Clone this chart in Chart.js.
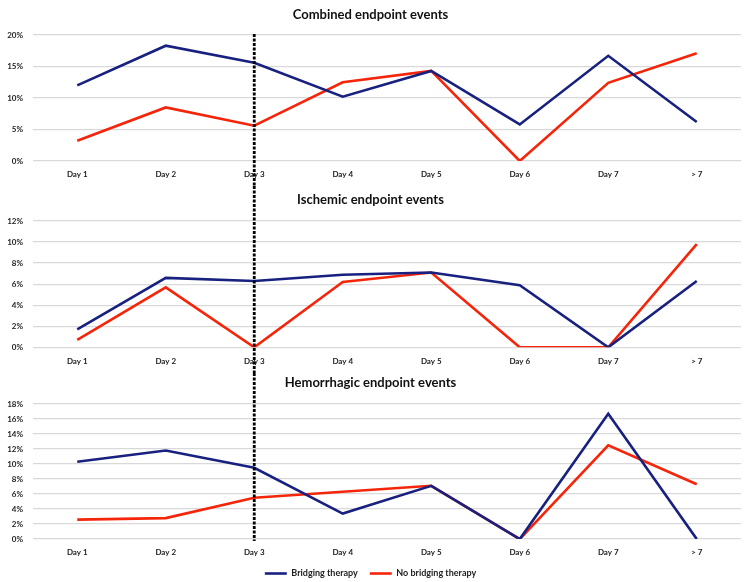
<!DOCTYPE html>
<html><head><meta charset="utf-8">
<script src="https://cdn.jsdelivr.net/npm/chart.js@4"></script>
<style>
html,body{margin:0;padding:0;background:#fff;width:748px;height:582px;overflow:hidden;position:relative}
canvas{position:absolute;left:0;display:block}
</style></head>
<body>
<canvas id="c1" width="748" height="186" style="top:0px"></canvas>
<canvas id="c2" width="748" height="187" style="top:186px"></canvas>
<canvas id="c3" width="748" height="215" style="top:373px"></canvas>
<script>
const categories = ['Day 1','Day 2','Day 3','Day 4','Day 5','Day 6','Day 7','> 7'];
const seriesNames = ['Bridging therapy','No bridging therapy'];
const panelTitles = ['Combined endpoint events','Ischemic endpoint events','Hemorrhagic endpoint events'];
const combinedBridging = [12.0,18.3,15.6,10.2,14.3,5.8,16.7,6.2];
const combinedNoBridging = [3.2,8.5,5.6,12.5,14.3,0,12.4,17.1];
const ischemicBridging = [1.7,6.6,6.3,6.9,7.1,5.9,0,6.3];
const ischemicNoBridging = [0.7,5.7,0,6.2,7.1,0,0,9.8];
const hemorrhagicBridging = [10.3,11.8,9.5,3.4,7.1,0,16.7,0];
const hemorrhagicNoBridging = [2.6,2.8,5.5,6.3,7.1,0,12.5,7.3];
const yMax = [20,12,18];
const yStep = [5,2,2];
const markerCategory = 'Day 3';

const BLUE = '#18217f';
const RED = '#f5250a';
const FONT = 'Lato, "Open Sans", sans-serif';

const dashPlugin = {
  id: 'dash',
  afterDatasetsDraw(chart, args, opts) {
    const x = chart.scales.x.getPixelForValue(categories.indexOf(markerCategory));
    const ctx = chart.ctx;
    const top = opts.first ? chart.chartArea.top - 1 : 0;
    const bottom = opts.last ? chart.chartArea.bottom + 2 : chart.height;
    ctx.save();
    ctx.strokeStyle = '#000';
    ctx.lineWidth = 2.8;
    ctx.setLineDash([3, 1.5]);
    ctx.beginPath();
    ctx.moveTo(x, top);
    ctx.lineTo(x, bottom);
    ctx.stroke();
    ctx.restore();
  }
};

function makeChart(id, idx, b, nb, cfg) {
  return new Chart(document.getElementById(id), {
    type: 'line',
    data: {
      labels: categories,
      datasets: [
        {label: seriesNames[0], data: b, borderColor: BLUE, backgroundColor: BLUE, borderWidth: 2.6, pointRadius: 0, tension: 0},
        {label: seriesNames[1], data: nb, borderColor: RED, backgroundColor: RED, borderWidth: 2.6, pointRadius: 0, tension: 0}
      ]
    },
    options: {
      responsive: false,
      animation: false,
      layout: {padding: {left: 0, right: 7, top: 0, bottom: 0}},
      plugins: {
        title: {display: true, text: panelTitles[idx], color: '#111',
          font: {family: FONT, size: 13, weight: 'bold'},
          padding: {top: cfg.pt, bottom: cfg.pb}},
        legend: cfg.legend ? {
          display: true, position: 'bottom',
          labels: {usePointStyle: true, pointStyle: 'line', pointStyleWidth: 22, boxHeight: 8,
            color: '#222', padding: 12, font: {family: FONT, size: 9, weight: 'bold'}}
        } : {display: false},
        tooltip: {enabled: false},
        dash: {first: idx === 0, last: idx === 2}
      },
      scales: {
        x: {
          offset: true,
          grid: {display: false, drawTicks: false},
          border: {display: false},
          ticks: {autoSkip: false, maxRotation: 0, padding: 9, color: '#222',
            font: {family: FONT, size: 8, weight: 'bold'}},
          afterFit(s) { s.height = cfg.xh; }
        },
        y: {
          min: 0, max: yMax[idx],
          grid: {color: '#d9d9d9', lineWidth: 1.3, drawTicks: false},
          border: {display: false},
          ticks: {stepSize: yStep[idx], padding: 10, color: '#222',
            font: {family: FONT, size: 8, weight: 'bold'},
            callback: v => v + '%'},
          afterFit(s) { s.width = 33; }
        }
      }
    },
    plugins: [dashPlugin]
  });
}

makeChart('c1', 0, combinedBridging, combinedNoBridging, {pt: 7.2, pb: 12.2, xh: 25});
makeChart('c2', 1, ischemicBridging, ischemicNoBridging, {pt: 6.2, pb: 13.2, xh: 25.7});
makeChart('c3', 2, hemorrhagicBridging, hemorrhagicNoBridging, {pt: 2.2, pb: 13.2, xh: 17.9, legend: true});
</script>
</body></html>
